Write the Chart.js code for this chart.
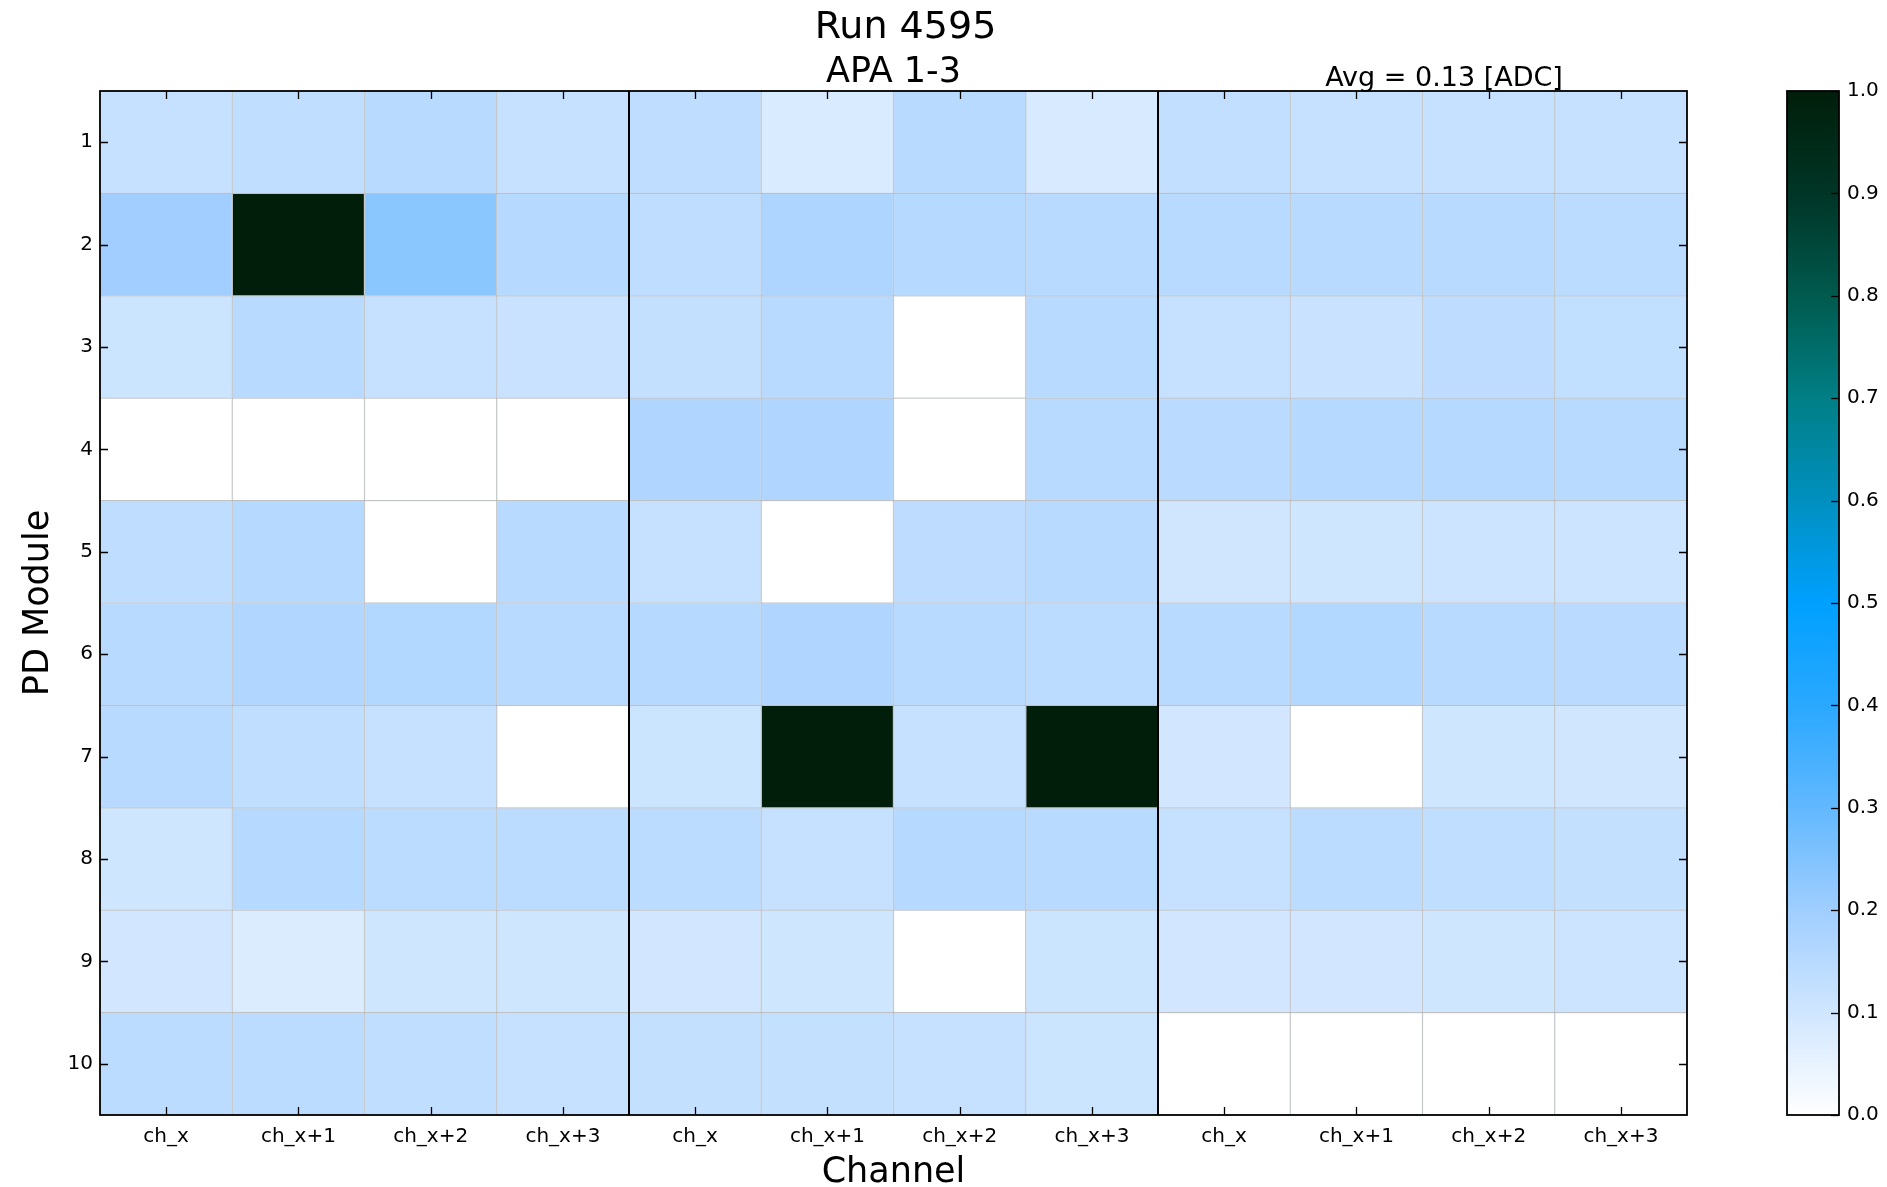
<!DOCTYPE html>
<html>
<head>
<meta charset="utf-8">
<title>Run 4595 – APA 1-3</title>
<script src="https://cdn.jsdelivr.net/npm/chart.js@4/dist/chart.umd.min.js"></script>
<style>
  html, body { margin: 0; padding: 0; background: #ffffff; }
  #wrap { position: relative; width: 1887px; height: 1187px; }
  #heat { position: absolute; left: 0; top: 0; }
  #cbar { position: absolute; left: 1700px; top: 0; }
</style>
</head>
<body>
<div id="wrap">
  <canvas id="heat" width="1887" height="1187"></canvas>
  <canvas id="cbar" width="187" height="1187"></canvas>
</div>
<script>
// ---- data -------------------------------------------------------------
const channelLabels = ['ch_x', 'ch_x+1', 'ch_x+2', 'ch_x+3',
                       'ch_x', 'ch_x+1', 'ch_x+2', 'ch_x+3',
                       'ch_x', 'ch_x+1', 'ch_x+2', 'ch_x+3'];
const moduleLabels = [1, 2, 3, 4, 5, 6, 7, 8, 9, 10];

// mean amplitude per PD module (rows) and channel (columns), in ADC
const module1  = [0.121, 0.133, 0.150, 0.121, 0.135, 0.081, 0.150, 0.083, 0.129, 0.121, 0.121, 0.121];
const module2  = [0.198, 1.000, 0.235, 0.156, 0.135, 0.171, 0.156, 0.150, 0.150, 0.150, 0.150, 0.144];
const module3  = [0.110, 0.150, 0.121, 0.117, 0.125, 0.150, 0.000, 0.150, 0.121, 0.115, 0.140, 0.131];
const module4  = [0.000, 0.000, 0.000, 0.000, 0.167, 0.167, 0.000, 0.150, 0.146, 0.156, 0.156, 0.150];
const module5  = [0.135, 0.156, 0.000, 0.150, 0.121, 0.000, 0.140, 0.150, 0.100, 0.102, 0.108, 0.108];
const module6  = [0.150, 0.165, 0.160, 0.150, 0.154, 0.167, 0.150, 0.144, 0.150, 0.160, 0.150, 0.146];
const module7  = [0.150, 0.133, 0.121, 0.000, 0.110, 1.000, 0.121, 1.000, 0.096, 0.000, 0.102, 0.100];
const module8  = [0.102, 0.156, 0.142, 0.142, 0.142, 0.121, 0.156, 0.148, 0.121, 0.142, 0.133, 0.127];
const module9  = [0.096, 0.077, 0.102, 0.102, 0.096, 0.102, 0.000, 0.110, 0.096, 0.096, 0.102, 0.108];
const module10 = [0.142, 0.142, 0.133, 0.121, 0.127, 0.127, 0.121, 0.110, 0.000, 0.000, 0.000, 0.000];
const moduleRows = [module1, module2, module3, module4, module5,
                    module6, module7, module8, module9, module10];

// APA groups: a separator sits before these channel indices
const apaBoundaries = [4, 8];

// colour scale range and ticks
const scaleRange = [0, 1];
const scaleTicks = [0, 0.1, 0.2, 0.3, 0.4, 0.5, 0.6, 0.7, 0.8, 0.9, 1.0];

// ---- colour map: white -> sky blue -> teal -> dark green ---------------
const cmapStops = [
  [0.0, [255, 255, 255]],
  [0.1, [208, 230, 255]],
  [0.2, [160, 206, 255]],
  [0.3, [98, 184, 255]],
  [0.4, [42, 168, 255]],
  [0.5, [0, 160, 255]],
  [0.6, [0, 144, 192]],
  [0.7, [0, 127, 133]],
  [0.8, [0, 90, 78]],
  [0.9, [0, 53, 38]],
  [1.0, [1, 30, 10]]
];
function cmap(v) {
  const t = Math.max(0, Math.min(1, v));
  for (let i = 1; i < cmapStops.length; i++) {
    const [t1, c1] = cmapStops[i];
    const [t0, c0] = cmapStops[i - 1];
    if (t <= t1) {
      const f = (t - t0) / (t1 - t0);
      const c = c0.map((a, k) => Math.round(a + (c1[k] - a) * f));
      return `rgb(${c[0]},${c[1]},${c[2]})`;
    }
  }
  const c = cmapStops[cmapStops.length - 1][1];
  return `rgb(${c[0]},${c[1]},${c[2]})`;
}

Chart.defaults.font.family = "'DejaVu Sans', sans-serif";
Chart.defaults.color = '#000';

// ---- overlay: APA separators, inward ticks and frame ---------------------
const heatFrame = {
  id: 'heatFrame',
  afterDatasetsDraw(chart) {
    const { ctx, chartArea: a, scales: { x, y } } = chart;
    ctx.save();
    ctx.strokeStyle = '#000';
    ctx.lineWidth = 2;
    apaBoundaries.forEach(i => {
      const px = Math.round((x.getPixelForValue(i - 1) + x.getPixelForValue(i)) / 2);
      ctx.beginPath();
      ctx.moveTo(px, a.top);
      ctx.lineTo(px, a.bottom);
      ctx.stroke();
    });
    ctx.lineWidth = 1.3;
    const tl = 8;
    x.ticks.forEach((t, i) => {
      const px = Math.round(x.getPixelForTick(i)) + 0.5;
      ctx.beginPath();
      ctx.moveTo(px, a.top); ctx.lineTo(px, a.top + tl);
      ctx.moveTo(px, a.bottom); ctx.lineTo(px, a.bottom - tl);
      ctx.stroke();
    });
    y.ticks.forEach((t, i) => {
      const py = Math.round(y.getPixelForTick(i)) + 0.5;
      ctx.beginPath();
      ctx.moveTo(a.left, py); ctx.lineTo(a.left + tl, py);
      ctx.moveTo(a.right, py); ctx.lineTo(a.right - tl, py);
      ctx.stroke();
    });
    ctx.lineWidth = 1.8;
    ctx.strokeRect(a.left, a.top, a.right - a.left, a.bottom - a.top);
    ctx.restore();
  },
  afterDraw(chart) {
    const { ctx, chartArea: a } = chart;
    const mid = (a.left + a.right) / 2;
    ctx.save();
    ctx.fillStyle = '#000';
    ctx.textAlign = 'center';
    ctx.textBaseline = 'alphabetic';
    ctx.font = "38px 'DejaVu Sans'";
    ctx.fillText('Run 4595', mid + 12, 38);
    ctx.font = "35px 'DejaVu Sans'";
    ctx.fillText('APA 1-3', mid, 82);
    ctx.font = "27px 'DejaVu Sans'";
    ctx.fillText('Avg = 0.13 [ADC]', 1444, 86);
    ctx.font = "35px 'DejaVu Sans'";
    ctx.fillText('Channel', mid, 1182);
    ctx.translate(48, (a.top + a.bottom) / 2);
    ctx.rotate(-Math.PI / 2);
    ctx.fillText('PD Module', 0, 0);
    ctx.restore();
  }
};

new Chart(document.getElementById('heat'), {
  type: 'bar',
  data: {
    labels: channelLabels,
    datasets: moduleRows.map((vals, r) => ({
      label: 'PD Module ' + moduleLabels[r],
      data: vals.map(() => [moduleLabels[r] - 0.5, moduleLabels[r] + 0.5]),
      backgroundColor: vals.map(cmap),
      borderColor: 'rgba(20,30,40,0.19)',
      borderWidth: 1,
      borderSkipped: false,
      barPercentage: 1,
      categoryPercentage: 1,
      grouped: false
    }))
  },
  options: {
    responsive: false,
    animation: false,
    devicePixelRatio: 1,
    layout: { padding: { left: 0, top: 91, right: 200, bottom: 0 } },
    plugins: { legend: { display: false }, tooltip: { enabled: false }, title: { display: false } },
    scales: {
      x: {
        type: 'category',
        grid: { display: false, drawTicks: false },
        border: { display: false },
        ticks: { font: { size: 20 }, color: '#000', padding: 10, maxRotation: 0, autoSkip: false },
        afterFit(s) { s.height = 72; }
      },
      y: {
        type: 'linear',
        min: 0.5,
        max: 10.5,
        reverse: true,
        grid: { display: false, drawTicks: false },
        border: { display: false },
        ticks: { font: { size: 20 }, color: '#000', padding: 7 },
        afterBuildTicks(s) { s.ticks = moduleLabels.map(v => ({ value: v })); },
        afterFit(s) { s.width = 100; }
      }
    }
  },
  plugins: [heatFrame]
});

// ---- colour bar -----------------------------------------------------------
const cbarFrame = {
  id: 'cbarFrame',
  afterDatasetsDraw(chart) {
    const { ctx, chartArea: a, scales: { y } } = chart;
    ctx.save();
    ctx.strokeStyle = '#000';
    ctx.lineWidth = 1.3;
    y.ticks.forEach((t, i) => {
      const py = Math.round(y.getPixelForTick(i)) + 0.5;
      ctx.beginPath();
      ctx.moveTo(a.right, py); ctx.lineTo(a.right - 8, py);
      ctx.stroke();
    });
    ctx.lineWidth = 1.8;
    ctx.strokeRect(a.left, a.top, a.right - a.left, a.bottom - a.top);
    ctx.restore();
  }
};

new Chart(document.getElementById('cbar'), {
  type: 'bar',
  data: {
    labels: [''],
    datasets: [{
      data: [scaleRange],
      backgroundColor(c) {
        const area = c.chart.chartArea;
        if (!area) return 'transparent';
        const g = c.chart.ctx.createLinearGradient(0, area.bottom, 0, area.top);
        cmapStops.forEach(([t]) => g.addColorStop(t, cmap(t)));
        return g;
      },
      borderWidth: 0,
      barPercentage: 1,
      categoryPercentage: 1
    }]
  },
  options: {
    responsive: false,
    animation: false,
    devicePixelRatio: 1,
    layout: { padding: { left: 87, top: 91, right: 0, bottom: 72 } },
    plugins: { legend: { display: false }, tooltip: { enabled: false } },
    scales: {
      x: { display: false },
      y: {
        position: 'right',
        min: scaleRange[0],
        max: scaleRange[1],
        grid: { display: false, drawTicks: false },
        border: { display: false },
        ticks: { font: { size: 20 }, color: '#000', padding: 8, callback: v => Number(v).toFixed(1) },
        afterBuildTicks(s) { s.ticks = scaleTicks.map(v => ({ value: v })); },
        afterFit(s) { s.width = 48; }
      }
    }
  },
  plugins: [cbarFrame]
});
</script>
</body>
</html>
